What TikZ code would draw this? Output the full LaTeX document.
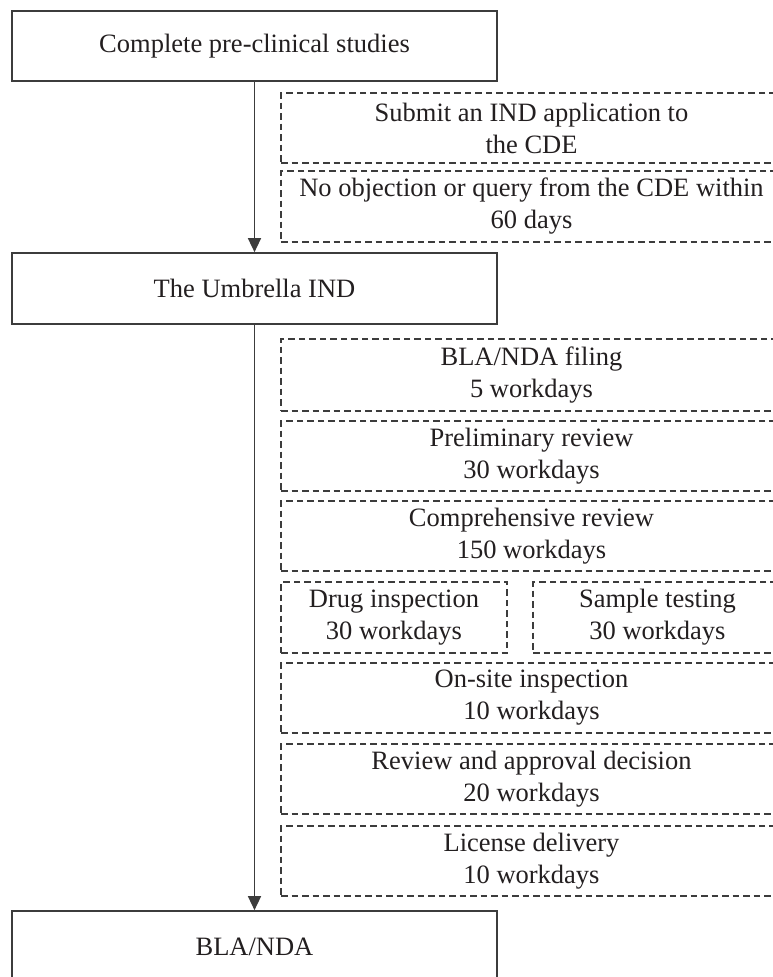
\documentclass[tikz,border=0pt]{standalone}
\usepackage{fontspec}
\setmainfont{Liberation Serif}
\usetikzlibrary{arrows.meta}
\definecolor{txt}{HTML}{231F20}
\definecolor{ln}{HTML}{3C3C3C}
\tikzset{
  solidbox/.style={draw=ln, line width=1.7pt, rectangle, inner sep=0pt, align=center, text=txt,
    font=\fontsize{26.5}{32}\selectfont},
  dashbox/.style={draw=ln, line width=1.3pt, dash pattern=on 6.5pt off 4pt, rectangle, inner sep=0pt,
    align=center, text=txt, font=\fontsize{26.5}{32}\selectfont, minimum height=70pt},
  flow/.style={draw=ln, line width=1.5pt, -{Triangle[length=14pt,width=13pt]}}
}
\begin{document}
\begin{tikzpicture}[x=1pt,y=-1pt]
\useasboundingbox (0,0) rectangle (773,977);
\clip (0,0) rectangle (773,977);
\fill[white] (0,0) rectangle (773,977);
% main solid boxes
\node[solidbox, minimum width=485pt, minimum height=70pt] (pre) at (254.5,46) {Complete pre-clinical studies};
\node[solidbox, minimum width=485pt, minimum height=71pt] (umb) at (254.5,288.5) {The Umbrella IND};
\node[solidbox, minimum width=485pt, minimum height=72pt] (bla) at (254.5,947) {BLA/NDA};
% dashed boxes
\node[dashbox, minimum width=501pt] (sub) at (531.5,128) {Submit an IND application to\\the CDE};
\node[dashbox, minimum width=501pt, minimum height=71pt] (noobj) at (531.5,206.5) {No objection or query from the CDE within\\60 days};
\node[dashbox, minimum width=501pt, minimum height=72pt] (filing) at (531.5,375) {BLA/NDA filing\\5 workdays};
\node[dashbox, minimum width=501pt] (prelim) at (531.5,456) {Preliminary review\\30 workdays};
\node[dashbox, minimum width=501pt] (comp) at (531.5,536) {Comprehensive review\\150 workdays};
\node[dashbox, minimum width=226pt, minimum height=71pt] (drug) at (394,617.5) {Drug inspection\\30 workdays};
\node[dashbox, minimum width=249pt, minimum height=71pt] (sample) at (657.5,617.5) {Sample testing\\30 workdays};
\node[dashbox, minimum width=501pt] (onsite) at (531.5,698) {On-site inspection\\10 workdays};
\node[dashbox, minimum width=501pt] (review) at (531.5,779) {Review and approval decision\\20 workdays};
\node[dashbox, minimum width=501pt] (lic) at (531.5,861) {License delivery\\10 workdays};
% connectors
\draw[flow] (pre.south) -- (umb.north);
\draw[flow] (umb.south) -- (bla.north);
\end{tikzpicture}
\end{document}
